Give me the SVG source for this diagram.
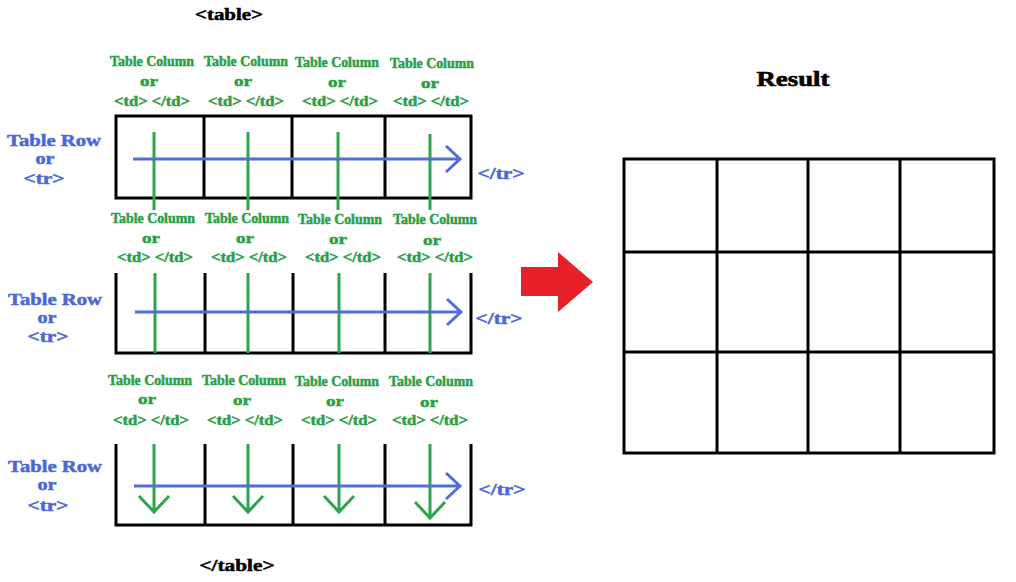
<svg xmlns="http://www.w3.org/2000/svg" width="1016" height="582" viewBox="0 0 1016 582">
<defs>
<style>
text{font-family:"Liberation Serif","Times New Roman",serif;font-weight:bold;text-anchor:middle}
.g{fill:#2aa045;stroke:#2aa045;stroke-width:0.5;font-size:14px}
.b{fill:#4a68d8;stroke:#4a68d8;stroke-width:0.5;font-size:17px}
.k{fill:#000;stroke:#000;stroke-width:0.5;font-size:17px}
.tb{fill:none;stroke:#000;stroke-width:3}
.gl{stroke:#2ea44d;stroke-width:3;fill:none}
.bl{stroke:#4f6fd8;stroke-width:3;fill:none}
</style>
</defs>
<rect width="1016" height="582" fill="#fff"/>
<g id="title-table"><text class="k" x="229" y="20" textLength="68" lengthAdjust="spacingAndGlyphs">&lt;table&gt;</text></g>
<g id="title-end"><text class="k" x="237" y="571" textLength="75" lengthAdjust="spacingAndGlyphs">&lt;/table&gt;</text></g>

<g id="row1">
<text class="g" x="152" y="66" textLength="84" lengthAdjust="spacingAndGlyphs">Table Column</text>
<text class="g" x="149" y="86" textLength="18" lengthAdjust="spacingAndGlyphs">or</text>
<text class="g" x="152" y="106" textLength="76" lengthAdjust="spacingAndGlyphs">&lt;td&gt; &lt;/td&gt;</text>
<text class="g" x="246" y="66" textLength="84" lengthAdjust="spacingAndGlyphs">Table Column</text>
<text class="g" x="243" y="86" textLength="18" lengthAdjust="spacingAndGlyphs">or</text>
<text class="g" x="246" y="106" textLength="76" lengthAdjust="spacingAndGlyphs">&lt;td&gt; &lt;/td&gt;</text>
<text class="g" x="337" y="67" textLength="84" lengthAdjust="spacingAndGlyphs">Table Column</text>
<text class="g" x="337" y="87" textLength="18" lengthAdjust="spacingAndGlyphs">or</text>
<text class="g" x="340" y="106" textLength="76" lengthAdjust="spacingAndGlyphs">&lt;td&gt; &lt;/td&gt;</text>
<text class="g" x="432" y="68" textLength="84" lengthAdjust="spacingAndGlyphs">Table Column</text>
<text class="g" x="430" y="88" textLength="18" lengthAdjust="spacingAndGlyphs">or</text>
<text class="g" x="431" y="106" textLength="76" lengthAdjust="spacingAndGlyphs">&lt;td&gt; &lt;/td&gt;</text>
<text class="b" x="54" y="146" textLength="94" lengthAdjust="spacingAndGlyphs">Table Row</text>
<text class="b" x="45" y="164" textLength="19" lengthAdjust="spacingAndGlyphs">or</text>
<text class="b" x="44" y="184" textLength="41" lengthAdjust="spacingAndGlyphs">&lt;tr&gt;</text>
<text class="b" x="501" y="179" textLength="47" lengthAdjust="spacingAndGlyphs">&lt;/tr&gt;</text>
<rect class="tb" x="116" y="116" width="355" height="82"/>
<path class="tb" d="M204 116V198M292 116V198M385 116V198"/>
</g>

<g id="row2">
<text class="g" x="153" y="223" textLength="84" lengthAdjust="spacingAndGlyphs">Table Column</text>
<text class="g" x="151" y="243" textLength="18" lengthAdjust="spacingAndGlyphs">or</text>
<text class="g" x="155" y="262" textLength="76" lengthAdjust="spacingAndGlyphs">&lt;td&gt; &lt;/td&gt;</text>
<text class="g" x="247" y="223" textLength="84" lengthAdjust="spacingAndGlyphs">Table Column</text>
<text class="g" x="245" y="243" textLength="18" lengthAdjust="spacingAndGlyphs">or</text>
<text class="g" x="249" y="262" textLength="76" lengthAdjust="spacingAndGlyphs">&lt;td&gt; &lt;/td&gt;</text>
<text class="g" x="340" y="224" textLength="84" lengthAdjust="spacingAndGlyphs">Table Column</text>
<text class="g" x="338" y="244" textLength="18" lengthAdjust="spacingAndGlyphs">or</text>
<text class="g" x="343" y="262" textLength="76" lengthAdjust="spacingAndGlyphs">&lt;td&gt; &lt;/td&gt;</text>
<text class="g" x="435" y="224" textLength="84" lengthAdjust="spacingAndGlyphs">Table Column</text>
<text class="g" x="432" y="245" textLength="18" lengthAdjust="spacingAndGlyphs">or</text>
<text class="g" x="435" y="262" textLength="76" lengthAdjust="spacingAndGlyphs">&lt;td&gt; &lt;/td&gt;</text>
<text class="b" x="55" y="305" textLength="94" lengthAdjust="spacingAndGlyphs">Table Row</text>
<text class="b" x="47" y="323" textLength="19" lengthAdjust="spacingAndGlyphs">or</text>
<text class="b" x="48" y="342" textLength="41" lengthAdjust="spacingAndGlyphs">&lt;tr&gt;</text>
<text class="b" x="499" y="324" textLength="47" lengthAdjust="spacingAndGlyphs">&lt;/tr&gt;</text>
<path class="tb" d="M116 273V353H471V273M205 273V353M293 273V353M385 273V353"/>
</g>

<g id="row3">
<text class="g" x="150" y="385" textLength="84" lengthAdjust="spacingAndGlyphs">Table Column</text>
<text class="g" x="147" y="404" textLength="18" lengthAdjust="spacingAndGlyphs">or</text>
<text class="g" x="151" y="425" textLength="76" lengthAdjust="spacingAndGlyphs">&lt;td&gt; &lt;/td&gt;</text>
<text class="g" x="244" y="385" textLength="84" lengthAdjust="spacingAndGlyphs">Table Column</text>
<text class="g" x="242" y="405" textLength="18" lengthAdjust="spacingAndGlyphs">or</text>
<text class="g" x="245" y="425" textLength="76" lengthAdjust="spacingAndGlyphs">&lt;td&gt; &lt;/td&gt;</text>
<text class="g" x="337" y="386" textLength="84" lengthAdjust="spacingAndGlyphs">Table Column</text>
<text class="g" x="335" y="406" textLength="18" lengthAdjust="spacingAndGlyphs">or</text>
<text class="g" x="339" y="425" textLength="76" lengthAdjust="spacingAndGlyphs">&lt;td&gt; &lt;/td&gt;</text>
<text class="g" x="431" y="386" textLength="84" lengthAdjust="spacingAndGlyphs">Table Column</text>
<text class="g" x="429" y="407" textLength="18" lengthAdjust="spacingAndGlyphs">or</text>
<text class="g" x="430" y="425" textLength="76" lengthAdjust="spacingAndGlyphs">&lt;td&gt; &lt;/td&gt;</text>
<text class="b" x="55" y="472" textLength="94" lengthAdjust="spacingAndGlyphs">Table Row</text>
<text class="b" x="47" y="490" textLength="19" lengthAdjust="spacingAndGlyphs">or</text>
<text class="b" x="48" y="511" textLength="41" lengthAdjust="spacingAndGlyphs">&lt;tr&gt;</text>
<text class="b" x="502" y="495" textLength="47" lengthAdjust="spacingAndGlyphs">&lt;/tr&gt;</text>
<path class="tb" d="M116 444V525H471V444M205 444V525M293 444V525M385 444V525"/>
</g>

<g id="connectors">
<path class="gl" d="M154 132V210M248 132V210M338 132V210M430 134V210"/>
<path class="bl" d="M133 159H460M446 146L460 159L446 172"/>
<path class="gl" d="M155 273V353M248 273V353M339 273V353M430 273V353"/>
<path class="bl" d="M135 312H461M447 299L461 312L447 325"/>
<path class="gl" d="M154 444V512M139 496L154 512L169 496M248 444V512M233 496L248 512L263 496M339 444V512M324 496L339 512L354 496M430 444V518M415 502L430 518L445 502"/>
<path class="bl" d="M134 486H460M446 473L460 486L446 499"/>
</g>

<g id="red-arrow">
<path d="M521 267H558V252L593 282L558 312V296H521Z" fill="#e8202a"/>
</g>

<g id="result">
<text x="793" y="86" textLength="73" lengthAdjust="spacingAndGlyphs" style="font-size:21px;fill:#000;stroke:#000;stroke-width:0.6">Result</text>
<rect class="tb" x="624" y="159" width="370" height="294"/>
<path class="tb" d="M717 159V453M808 159V453M900 159V453M624 252H994M624 352H994"/>
</g>
</svg>
